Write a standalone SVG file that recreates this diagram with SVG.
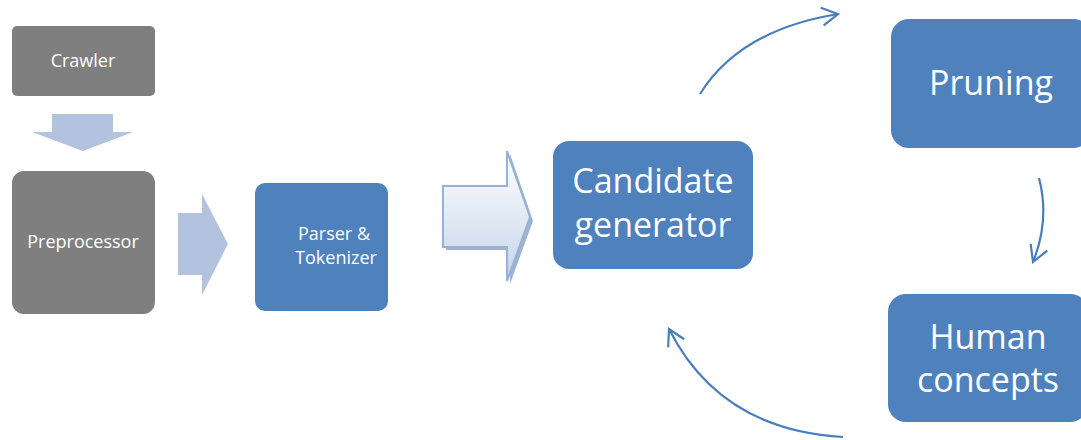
<svg xmlns="http://www.w3.org/2000/svg" width="1081" height="440" viewBox="0 0 1081 440">
<defs>
<linearGradient id="grad" x1="0" y1="0" x2="0" y2="1">
<stop offset="0" stop-color="#ffffff"/>
<stop offset="1" stop-color="#c5d4ea"/>
</linearGradient>
<marker id="head" markerUnits="userSpaceOnUse" markerWidth="24" markerHeight="24" refX="17" refY="10" orient="auto" viewBox="0 0 24 20">
<path d="M1,1 L17,10 L1,19" fill="none" stroke="#4a7ebb" stroke-width="2.2"/>
</marker>
<style>
.gray{fill:#7f7f7f}
.blue{fill:#4f81bd}
.block{fill:#b3c3df}
.t{font-family:"Open Sans","DejaVu Sans",sans-serif;fill:#ffffff;text-anchor:middle}
.s{font-size:18px}
.b{font-size:34px}
.curve{fill:none;stroke:#4a7ebb;stroke-width:2.2;marker-end:url(#head)}
</style>
</defs>
<rect width="1081" height="440" fill="#ffffff"/>
<g id="crawler">
<rect class="gray" x="12" y="26" width="143" height="70" rx="5"/>
<text class="t s" x="83" y="67">Crawler</text>
</g>
<g id="preprocessor">
<rect class="gray" x="12" y="171" width="143" height="143" rx="12"/>
<text class="t s" x="83" y="248">Preprocessor</text>
</g>
<g id="parser">
<rect class="blue" x="255" y="183" width="133" height="128" rx="10"/>
<text class="t s" x="334" y="240">Parser &amp;</text>
<text class="t s" x="336" y="264">Tokenizer</text>
</g>
<g id="candidate">
<rect class="blue" x="553" y="141" width="200" height="128" rx="16"/>
<text class="t b" x="653" y="193">Candidate</text>
<text class="t b" x="653" y="237">generator</text>
</g>
<g id="pruning">
<rect class="blue" x="891" y="19" width="200" height="129" rx="18"/>
<text class="t b" x="991" y="95">Pruning</text>
</g>
<g id="human">
<rect class="blue" x="888" y="294" width="200" height="128" rx="18"/>
<text class="t b" x="988" y="349">Human</text>
<text class="t b" x="988" y="392">concepts</text>
</g>
<g id="connectors">
<polygon class="block" points="52,114 113,114 113,132 133,132 83,151 32,132 52,132"/>
<polygon class="block" points="178,213 202,213 202,194 228,244 202,295 202,275 178,275"/>
<polygon fill="#9fb2cf" points="446,189 510,189 510,154 533,221 510,284 510,250 446,250"/>
<polygon fill="url(#grad)" stroke="#95b3d7" stroke-width="2" points="443,186 507,186 507,151 530,217 507,281 507,247 443,247"/>
<path class="curve" d="M700,94 Q740,30 838,14"/>
<path class="curve" d="M1039,178 Q1050,220 1033,262"/>
<path class="curve" d="M843,437 Q720,430 669,329"/>
</g>
</svg>
